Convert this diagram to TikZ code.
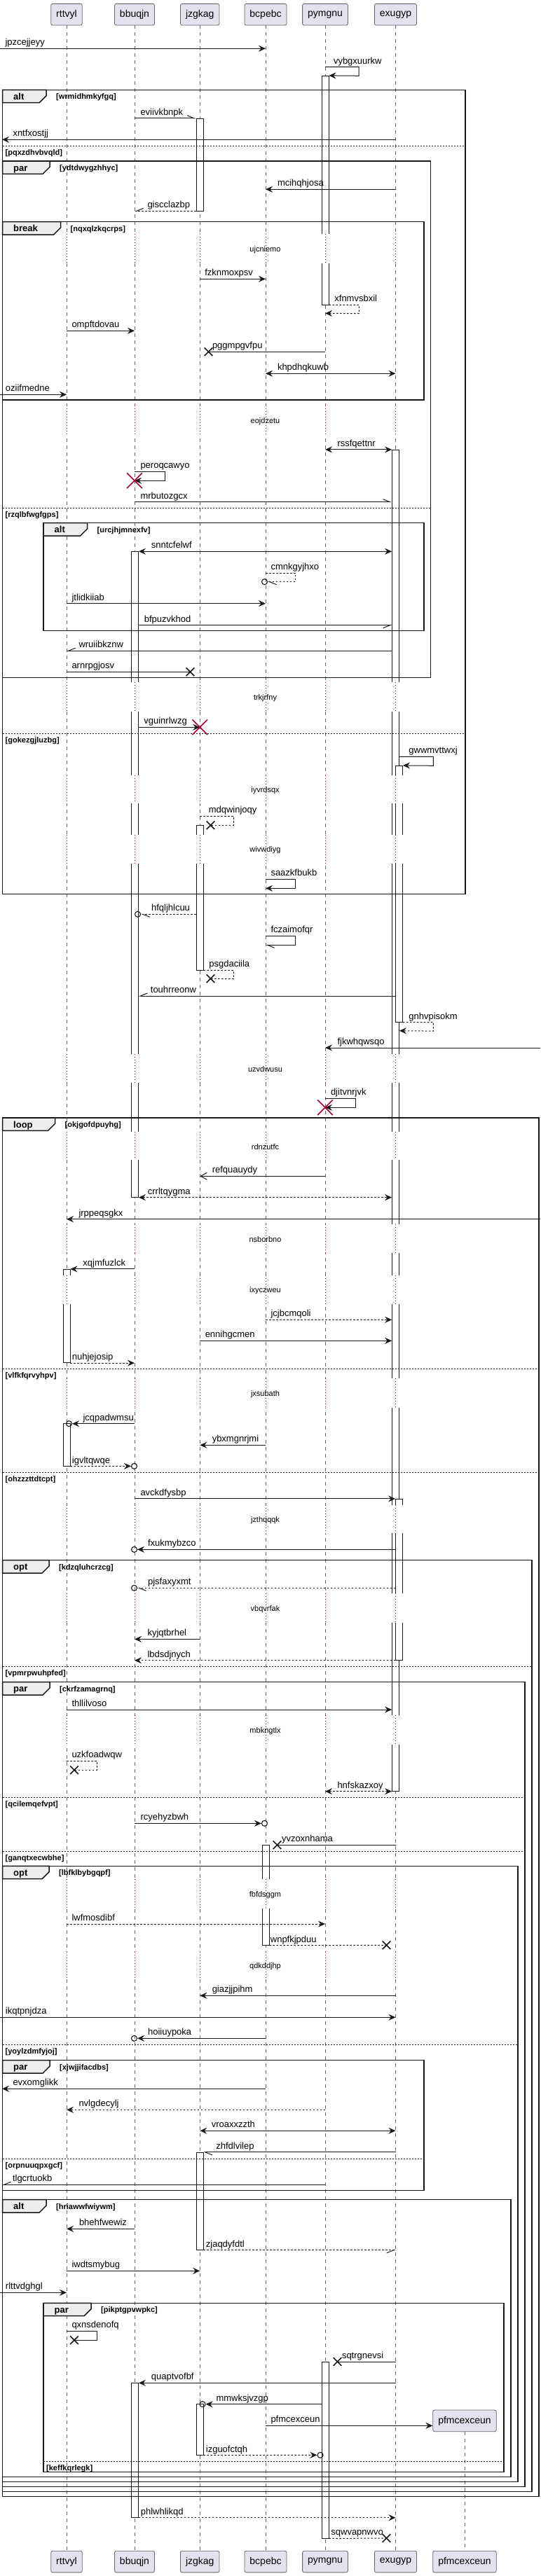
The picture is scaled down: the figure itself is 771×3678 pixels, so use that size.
\documentclass[tikz,border=0pt]{standalone}
\usepackage{fontspec}
\setmainfont{Liberation Sans}
\usepackage{xcolor}
\usepackage{tikz}
\usetikzlibrary{positioning,arrows.meta,shapes.misc,fit,calc}
\definecolor{umlbox}{RGB}{226,226,240}
\definecolor{umlline}{RGB}{24,24,24}
\definecolor{umltab}{RGB}{238,238,238}
\definecolor{umlred}{RGB}{168,0,54}
\tikzset{
  sqhead/.style={rounded corners=2.5pt, draw=black!60, line width=0.8pt, fill=umlbox, inner xsep=7.5pt, inner ysep=0pt, minimum height=30.7pt, font=\fontsize{14}{16}\selectfont},
  sqlife/.style={draw=black!60, line width=0.6pt, dash pattern=on 5pt off 5pt},
  sqdelay/.style={draw=umlred, line width=0.8pt, dash pattern=on 1pt off 3pt},
  sqdelaytxt/.style={inner sep=0pt, font=\fontsize{11}{13}\selectfont},
  sqact/.style={draw=umlline, fill=white, line width=0.8pt, inner sep=0pt},
  sqline/.style={draw=umlline, line width=1pt},
  sqmsg/.style={sqline, -{Stealth[length=10pt, width=9pt, inset=3.5pt]}},
  sqboth/.style={sqline, {Stealth[length=10pt, width=9pt, inset=3.5pt]}-{Stealth[length=10pt, width=9pt, inset=3.5pt]}},
  sqopen/.style={sqline, -{Straight Barb[length=9pt, width=10pt]}},
  sqhalfl/.style={sqline, -{Straight Barb[left, length=10pt, width=8pt]}},
  sqhalfr/.style={sqline, -{Straight Barb[right, length=10pt, width=8pt]}},
  sqdash/.style={dash pattern=on 2.5pt off 2.5pt},
  sqlab/.style={anchor=base west, inner sep=0pt, yshift=4.5pt, font=\fontsize{13}{15}\selectfont},
  sqlost/.style={cross out, draw=umlline, line width=1.6pt, minimum size=10pt, inner sep=0pt},
  sqkill/.style={cross out, draw=umlred, line width=1.6pt, minimum size=20pt, inner sep=0pt},
  sqcirc/.style={circle, draw=umlline, line width=1.1pt, minimum size=8pt, inner sep=0pt},
  sqborder/.style={draw=umlline, line width=1.5pt},
  sqtab/.style={draw=umlline, line width=1.5pt, fill=umltab},
  sqsep/.style={draw=umlline, line width=0.8pt, dash pattern=on 2pt off 2pt},
  sqkey/.style={anchor=base west, inner sep=0pt, font=\bfseries\fontsize{13}{15}\selectfont},
  sqguard/.style={anchor=base west, inner sep=0pt, font=\bfseries\fontsize{11}{13}\selectfont},
}
% frame: x1, y1, x2, y2, tab end, keyword, guard
\newcommand{\sqframe}[7]{%
  \draw[sqtab] (#1,#2) -- (#5,#2) -- (#5,#2+8.4) -- (#5-10,#2+18.4) -- (#1,#2+18.4) -- cycle;
  \draw[sqborder] (#1,#2) rectangle (#3,#4);
  \node[sqkey] (#7-kw) at (#1+15.5,#2+14) {#6};
  \node[sqguard] (#7) at (#5+14,#2+13.5) {[#7]};
}
% else line: x1, x2, y, guard
\newcommand{\sqelse}[4]{%
  \draw[sqsep] (#1,#3) -- (#2,#3);
  \node[sqguard] (#4) at (#1+4,#3+13) {[#4]};
}

\begin{document}
\begin{tikzpicture}[x=1pt, y=-1pt]
  \useasboundingbox (0,0) rectangle (771,3678);
  \coordinate (edgeL) at (0,0);
  \coordinate (edgeLt) at (3,0);
  \coordinate (edgeR) at (771,0);

  % participants
  \node[sqhead] (rttvyl) at (95,20.7) {rttvyl};
  \node[sqhead] (bbuqjn) at (192,20.7) {bbuqjn};
  \node[sqhead] (jzgkag) at (285.25,20.7) {jzgkag};
  \node[sqhead] (bcpebc) at (379,20.7) {bcpebc};
  \node[sqhead] (pymgnu) at (464,20.7) {pymgnu};
  \node[sqhead] (exugyp) at (564.5,20.7) {exugyp};
  \node[sqhead] (pfmc) at (663,3456.4) {pfmcexceun};
  \node[sqhead] (rttvyl2) at (95,3657.5) {rttvyl};
  \node[sqhead] (bbuqjn2) at (192,3657.5) {bbuqjn};
  \node[sqhead] (jzgkag2) at (285.25,3657.5) {jzgkag};
  \node[sqhead] (bcpebc2) at (379,3657.5) {bcpebc};
  \node[sqhead] (pymgnu2) at (464,3657.5) {pymgnu};
  \node[sqhead] (exugyp2) at (564.5,3657.5) {exugyp};
  \node[sqhead] (pfmc2) at (663,3657.5) {pfmcexceun};
  \foreach \p in {rttvyl,bbuqjn,jzgkag,bcpebc,pymgnu,exugyp,pfmc}
    \draw[sqlife] (\p) -- (\p2);

  % activations
  \node[sqact, fit={(459,108.3) (469,435)}] (pymA) {};
  \node[sqact, fit={(280,169.3) (290,301)}] (jzgA) {};
  \node[sqact, fit={(559.5,642.3) (569.5,2557.3)}] (exuA) {};
  \node[sqact, fit={(187.5,787.7) (197.5,1709.3)}] (bbuA) {};
  \node[sqact, fit={(564.5,1093.3) (574.5,1459.3)}] (exuB) {};
  \node[sqact, fit={(280,1178.3) (290,1385)}] (jzgB) {};
  \node[sqact, fit={(90,1812.3) (100,1945.7)}] (rttA) {};
  \node[sqact, fit={(90,2032.7) (100,2093.3)}] (rttB) {};
  \node[sqact, fit={(564.5,2140.3) (574.5,2370.3)}] (exuC) {};
  \node[sqact, fit={(374,2634.3) (384,2777.3)}] (bcpA) {};
  \node[sqact, fit={(280,3073.3) (290,3212.3)}] (jzgC) {};
  \node[sqact, fit={(459,3372) (469,3624)}] (pymB) {};
  \node[sqact, fit={(187.5,3402.7) (197.5,3594.3)}] (bbuB) {};
  \node[sqact, fit={(280,3432.7) (290,3505.3)}] (jzgD) {};

  % delays
  \foreach \ya/\yb/\txt in {334/376/ujcniemo, 579/621/eojdzetu, 974/1016/trkjrfny, 1107/1147/iyvrdsqx,
      1192/1233/wivwdiyg, 1505/1546/uzvdwusu, 1616/1656/rdnzutfc, 1748/1789/nsborbno, 1821/1862/ixyczweu,
      1968/2010/jxsubath, 2149/2189/jzthqqqk, 2275/2317/vbqvrfak, 2449/2491/mbkngtlx, 2683/2725/fbfdsggm,
      2787/2826/qdkddjhp}{
    \fill[white] (84,\ya) rectangle (581,\yb);
    \foreach \p in {rttvyl,bbuqjn,jzgkag,bcpebc,pymgnu,exugyp}
      \draw[sqdelay] (\p |- 0,\ya) -- (\p |- 0,\yb);
    \node[sqdelaytxt] (delay\ya) at (378.5,{(\ya+\yb)/2+1.5}) {\txt};
  }

  % frames
  \sqframe{3.5}{128.3}{664}{1276.7}{66}{alt}{wrmidhmkyfgq}
  \sqelse{3.5}{664}{208.3}{pqxzdhvbvqld}
  \sqelse{3.5}{664}{1047.3}{gokezgjluzbg}
  \sqframe{3.5}{230}{614.5}{967.3}{71}{par}{ydtdwygzhhyc}
  \sqelse{3.5}{614.5}{725.3}{rzqlbfwgfgps}
  \sqframe{3.5}{316.7}{605}{571}{86.5}{break}{nqxqlzkqcrps}
  \sqframe{62}{746.7}{605}{900.3}{124.5}{alt}{urcjhjmnexfv}
  \sqframe{3.5}{1596}{769}{3564.3}{78.5}{loop}{okjgofdpuyhg}
  \sqelse{3.5}{769}{1954.3}{vlfkfqrvyhpv}
  \sqelse{3.5}{769}{2102.3}{ohzzzttdtcpt}
  \sqframe{3.5}{2227.7}{759}{3557.3}{70}{opt}{kdzqluhcrzcg}
  \sqelse{3.5}{759}{2379.3}{vpmrpwuhpfed}
  \sqframe{3.5}{2401.7}{749}{3550.3}{71}{par}{ckrfzamagrnq}
  \sqelse{3.5}{749}{2566.3}{qcilemqefvpt}
  \sqelse{3.5}{749}{2643.3}{ganqtxecwbhe}
  \sqframe{3.5}{2664.3}{739}{3543.3}{70}{opt}{lbfklbybgqpf}
  \sqelse{3.5}{739}{2919.3}{yoylzdmfyjoj}
  \sqframe{3.5}{2941.7}{605}{3127.3}{71}{par}{xjwjjifacdbs}
  \sqelse{3.5}{605}{3082.3}{orpnuuqpxgcf}
  \sqframe{3.5}{3140.7}{729}{3536.3}{66}{alt}{hriawwfwiywm}
  \sqframe{62}{3288.3}{719}{3529.3}{130}{par}{pikptgpvwpkc}
  \sqelse{62}{719}{3514.3}{keffkqrlegk}

  % messages
  \draw[sqmsg] (edgeL |- 0,69.3) -- (bcpebc |- 0,69.3) node[sqlab, at start, xshift=7pt] {jpzcejjeyy};
  \draw[sqmsg] (pymgnu |- 0,95.7) -- ++(48,0) node[sqlab, at start, xshift=11.5pt] {vybgxuurkw} -- ++(0,12.6) -- (pymA.north east);
  \draw[sqhalfl] (bbuqjn |- jzgA.north) -- (jzgA.north west) node[sqlab, at start, xshift=8pt] {eviivkbnpk};
  \draw[sqmsg] (exugyp |- 0,199.3) -- (edgeLt |- 0,199.3) node[sqlab, at end, xshift=15pt] {xntfxostjj};
  \draw[sqmsg] (exugyp |- 0,270.3) -- (bcpebc |- 0,270.3) node[sqlab, at end, xshift=16.5pt] {mcihqhjosa};
  \draw[sqhalfr, sqdash] (jzgA.south west) -- (bbuqjn |- jzgA.south) node[sqlab, at end, xshift=18pt] {giscclazbp};
  \draw[sqmsg] (jzgkag |- 0,398.3) -- (bcpebc |- 0,398.3) node[sqlab, at start, xshift=6.5pt] {fzknmoxpsv};
  \draw[sqmsg, sqdash] (pymA.south east) -- ++(43,0) node[sqlab, at start, xshift=7.5pt] {xfnmvsbxil} -- ++(0,12.3) -- (pymgnu |- 0,447.3);
  \draw[sqmsg] (rttvyl |- 0,472.3) -- (bbuqjn |- 0,472.3) node[sqlab, at start, xshift=7pt] {ompftdovau};
  \node[sqlost] (lost1) at (297.5,502.3) {};
  \draw[sqline] (pymgnu |- lost1) -- (lost1.center) node[sqlab, at end, xshift=5pt] {pggmpgvfpu};
  \draw[sqboth] (bcpebc |- 0,533.3) -- (exugyp |- 0,533.3) node[sqlab, at start, xshift=16.5pt] {khpdhqkuwb};
  \draw[sqmsg] (edgeL |- 0,563.3) -- (rttvyl |- 0,563.3) node[sqlab, at start, xshift=7.5pt] {oziifmedne};
  \draw[sqboth] (pymgnu |- exuA.north) -- (exuA.north west) node[sqlab, at start, xshift=17pt] {rssfqettnr};
  \draw[sqmsg] (bbuqjn |- 0,673.3) -- ++(43.5,0) node[sqlab, at start, xshift=8pt] {peroqcawyo} -- ++(0,13) -- (bbuqjn |- 0,686.3) coordinate (k1);
  \node[sqkill] (kill1) at (k1) {};
  \draw[sqhalfl] (bbuqjn |- 0,716.7) -- (exuA.west |- 0,716.7) node[sqlab, at start, xshift=8pt] {mrbutozgcx};
  \draw[sqboth] (bbuA.north east) -- (exuA.west |- bbuA.north) node[sqlab, at start, xshift=17.5pt] {snntcfelwf};
  \node[sqcirc] (circ1) at (377.5,830.7) {};
  \draw[sqhalfl, sqdash] (bcpebc |- 0,818.3) -- ++(42.5,0) node[sqlab, at start, xshift=7pt] {cmnkgyjhxo} -- ++(0,12.4) -- (circ1.east);
  \draw[sqmsg] (rttvyl |- 0,861.7) -- (bcpebc |- 0,861.7) node[sqlab, at start, xshift=7pt] {jtlidkiiab};
  \draw[sqhalfr] (bbuA.east |- 0,892.7) -- (exuA.west |- 0,892.7) node[sqlab, at start, xshift=7.5pt] {bfpuzvkhod};
  \draw[sqhalfr] (exuA.west |- 0,929.3) -- (rttvyl |- 0,929.3) node[sqlab, at end, xshift=17pt] {wruiibkznw};
  \node[sqlost] (lost2) at (271.5,959.3) {};
  \draw[sqline] (rttvyl |- lost2) -- (lost2.center) node[sqlab, at start, xshift=7pt] {arnrpgjosv};
  \draw[sqmsg] (bbuA.east |- 0,1038.3) -- (jzgkag |- 0,1038.3) coordinate (k2) node[sqlab, at start, xshift=7pt] {vguinrlwzg};
  \node[sqkill] (kill2) at (k2) {};
  \draw[sqmsg] (exuA.east |- 0,1080.3) -- ++(48.5,0) node[sqlab, at start, xshift=13pt] {gwwmvttwxj} -- ++(0,13) -- (exuB.north east);
  \node[sqlost] (lost3) at (300.5,1178.3) {};
  \draw[sqline, sqdash] (jzgkag |- 0,1165.3) -- ++(48,0) node[sqlab, at start, xshift=12pt] {mdqwinjoqy} -- ++(0,13) -- (lost3.center);
  \draw[sqmsg] (bcpebc |- 0,1255) -- ++(42.5,0) node[sqlab, at start, xshift=7pt] {saazkfbukb} -- ++(0,13.3) -- (bcpebc |- 0,1268.3);
  \node[sqcirc] (circ2) at (196.5,1305.3) {};
  \draw[sqhalfl, sqdash] (jzgB.west |- circ2) -- (circ2.east) node[sqlab, at end, xshift=14.5pt] {hfqljhlcuu};
  \draw[sqhalfl] (bcpebc |- 0,1336.3) -- ++(42.5,0) node[sqlab, at start, xshift=7pt] {fczaimofqr} -- ++(0,13) -- (bcpebc |- 0,1349.3);
  \node[sqlost] (lost4) at (300.5,1397.3) {};
  \draw[sqline, sqdash] (jzgB.south east) -- ++(43,0) node[sqlab, at start, xshift=7.5pt] {psgdaciila} -- ++(0,12.3) -- (lost4.center);
  \draw[sqhalfr] (exuB.west |- 0,1422) -- (bbuA.east |- 0,1422) node[sqlab, at end, xshift=16.5pt] {touhrreonw};
  \draw[sqmsg, sqdash] (exuB.south east) -- ++(43.5,0) node[sqlab, at start, xshift=8pt] {gnhvpisokm} -- ++(0,12.4) -- (exuA.east |- 0,1471.7);
  \draw[sqmsg] (edgeR |- 0,1496) -- (pymgnu |- 0,1496) node[sqlab, at end, xshift=17pt] {fjkwhqwsqo};
  \draw[sqmsg] (pymgnu |- 0,1568.3) -- ++(43,0) node[sqlab, at start, xshift=7.5pt] {djitvnrjvk} -- ++(0,13) -- (pymgnu |- 0,1581.3) coordinate (k3);
  \node[sqkill] (kill3) at (k3) {};
  \draw[sqopen] (pymgnu |- 0,1679.3) -- (jzgkag |- 0,1679.3) node[sqlab, at end, xshift=17pt] {refquauydy};
  \draw[sqboth, sqdash] (bbuA.south east) -- (exuA.west |- bbuA.south) node[sqlab, at start, xshift=12.5pt] {crrltqygma};
  \draw[sqmsg] (edgeR |- 0,1740.7) -- (rttvyl |- 0,1740.7) node[sqlab, at end, xshift=17pt] {jrppeqsgkx};
  \draw[sqmsg] (bbuqjn |- rttA.north) -- (rttA.north east) node[sqlab, at end, xshift=17.5pt] {xqjmfuzlck};
  \draw[sqmsg, sqdash] (bcpebc |- 0,1884.3) -- (exuA.west |- 0,1884.3) node[sqlab, at start, xshift=7pt] {jcjbcmqoli};
  \draw[sqmsg] (jzgkag |- 0,1914.3) -- (exuA.west |- 0,1914.3) node[sqlab, at start, xshift=7pt] {ennihgcmen};
  \draw[sqmsg, sqdash] (rttA.south east) -- (bbuqjn |- rttA.south) node[sqlab, at start, xshift=2pt] {nuhjejosip};
  \node[sqcirc] (circ3) at (98.5,2032.7) {};
  \draw[sqmsg] (bbuqjn |- circ3) -- (circ3.east) node[sqlab, at end, xshift=15pt] {jcqpadwmsu};
  \draw[sqmsg] (bcpebc |- 0,2063.3) -- (jzgkag |- 0,2063.3) node[sqlab, at end, xshift=17pt] {ybxmgnrjmi};
  \node[sqcirc] (circ4) at (191.5,2093.3) {};
  \draw[sqmsg, sqdash] (rttB.south east) -- (circ4.west) node[sqlab, at start, xshift=2pt] {igvltqwqe};
  \draw[sqmsg] (bbuqjn |- exuC.north) -- (exuC.north west) node[sqlab, at start, xshift=8pt] {avckdfysbp};
  \node[sqcirc] (circ5) at (191.5,2212.3) {};
  \draw[sqmsg] (exuC.west |- circ5) -- (circ5.east) node[sqlab, at end, xshift=14.5pt] {fxukmybzco};
  \node[sqcirc] (circ6) at (191.5,2267.3) {};
  \draw[sqhalfl, sqdash] (exuC.west |- circ6) -- (circ6.east) node[sqlab, at end, xshift=14.5pt] {pjsfaxyxmt};
  \draw[sqmsg] (jzgkag |- 0,2340.3) -- (bbuqjn |- 0,2340.3) node[sqlab, at end, xshift=18pt] {kyjqtbrhel};
  \draw[sqmsg, sqdash] (exuC.south west) -- (bbuqjn |- exuC.south) node[sqlab, at end, xshift=18pt] {lbdsdjnych};
  \draw[sqmsg] (rttvyl |- 0,2441) -- (exuA.west |- 0,2441) node[sqlab, at start, xshift=7pt] {thllilvoso};
  \node[sqlost] (lost5) at (106,2527.3) {};
  \draw[sqline, sqdash] (rttvyl |- 0,2514.3) -- ++(43,0) node[sqlab, at start, xshift=7pt] {uzkfoadwqw} -- ++(0,13) -- (lost5.center);
  \draw[sqboth, sqdash] (pymgnu |- exuA.south) -- (exuA.south west) node[sqlab, at start, xshift=17pt] {hnfskazxoy};
  \node[sqcirc] (circ7) at (377.5,2603.3) {};
  \draw[sqmsg] (bbuqjn |- circ7) -- (circ7.west) node[sqlab, at start, xshift=8pt] {rcyehyzbwh};
  \node[sqlost] (lost6) at (395.5,2634.3) {};
  \draw[sqline] (exugyp |- lost6) -- (lost6.center) node[sqlab, at end, xshift=6pt] {yvzoxnhama};
  \draw[sqmsg, sqdash] (rttvyl |- 0,2747) -- (pymgnu |- 0,2747) node[sqlab, at start, xshift=7pt] {lwfmosdibf};
  \node[sqlost] (lost7) at (551.5,2777.3) {};
  \draw[sqline, sqdash] (bcpA.south east) -- (lost7.center) node[sqlab, at start, xshift=1pt] {wnpfkjpduu};
  \draw[sqmsg] (exugyp |- 0,2849.3) -- (jzgkag |- 0,2849.3) node[sqlab, at end, xshift=17pt] {giazjjpihm};
  \draw[sqmsg] (edgeL |- 0,2880.3) -- (exugyp |- 0,2880.3) node[sqlab, at start, xshift=7.5pt] {ikqtpnjdza};
  \node[sqcirc] (circ8) at (191.5,2910.3) {};
  \draw[sqmsg] (bcpebc |- circ8) -- (circ8.east) node[sqlab, at end, xshift=14.5pt] {hoiiuypoka};
  \draw[sqmsg] (bcpebc |- 0,2982.3) -- (edgeLt |- 0,2982.3) node[sqlab, at end, xshift=15pt] {evxomglikk};
  \draw[sqmsg, sqdash] (pymgnu |- 0,3012.3) -- (rttvyl |- 0,3012.3) node[sqlab, at end, xshift=17pt] {nvlgdecylj};
  \draw[sqboth] (jzgkag |- 0,3042.3) -- (exugyp |- 0,3042.3) node[sqlab, at start, xshift=16pt] {vroaxxzzth};
  \draw[sqhalfl] (exugyp |- jzgC.north) -- (jzgC.north east) node[sqlab, at end, xshift=17.5pt] {zhfdlvilep};
  \draw[sqhalfr] (pymgnu |- 0,3119.3) -- (edgeLt |- 0,3119.3) node[sqlab, at end, xshift=14.5pt] {tlgcrtuokb};
  \draw[sqmsg] (bbuqjn |- 0,3182.3) -- (rttvyl |- 0,3182.3) node[sqlab, at end, xshift=17.5pt] {bhehfwewiz};
  \draw[sqhalfr, sqdash] (jzgC.south east) -- (exugyp |- jzgC.south) node[sqlab, at start, xshift=3pt] {zjaqdyfdtl};
  \draw[sqmsg] (rttvyl |- 0,3242.3) -- (jzgkag |- 0,3242.3) node[sqlab, at start, xshift=7pt] {iwdtsmybug};
  \draw[sqmsg] (edgeL |- 0,3273.3) -- (rttvyl |- 0,3273.3) node[sqlab, at start, xshift=7.5pt] {rlttvdghgl};
  \node[sqlost] (lost8) at (106,3341.3) {};
  \draw[sqline] (rttvyl |- 0,3328.3) -- ++(43,0) node[sqlab, at start, xshift=7pt] {qxnsdenofq} -- ++(0,13) -- (lost8.center);
  \node[sqlost] (lost9) at (481.5,3372) {};
  \draw[sqline] (exugyp |- lost9) -- (lost9.center) node[sqlab, at end, xshift=6pt] {sqtrgnevsi};
  \draw[sqmsg] (exugyp |- bbuB.north) -- (bbuB.north east) node[sqlab, at end, xshift=17.5pt] {quaptvofbf};
  \node[sqcirc] (circ9) at (289,3432.7) {};
  \draw[sqmsg] (pymB.west |- circ9) -- (circ9.east) node[sqlab, at end, xshift=14.5pt] {mmwksjvzgp};
  \draw[sqmsg] (bcpebc |- 0,3463.3) -- (pfmc.west |- 0,3463.3) node[sqlab, at start, xshift=7pt] {pfmcexceun};
  \node[sqcirc] (circ10) at (457,3505.3) {};
  \draw[sqmsg, sqdash] (jzgD.south east) -- (circ10.west) node[sqlab, at start, xshift=3pt] {izguofctqh};
  \draw[sqmsg, sqdash] (bbuB.south east) -- (exugyp |- bbuB.south) node[sqlab, at start, xshift=2.5pt] {phlwhlikqd};
  \node[sqlost] (lost10) at (551.5,3624) {};
  \draw[sqline, sqdash] (pymB.south east) -- (lost10.center) node[sqlab, at start, xshift=2.5pt] {sqwvapnwvo};
\end{tikzpicture}
\end{document}
